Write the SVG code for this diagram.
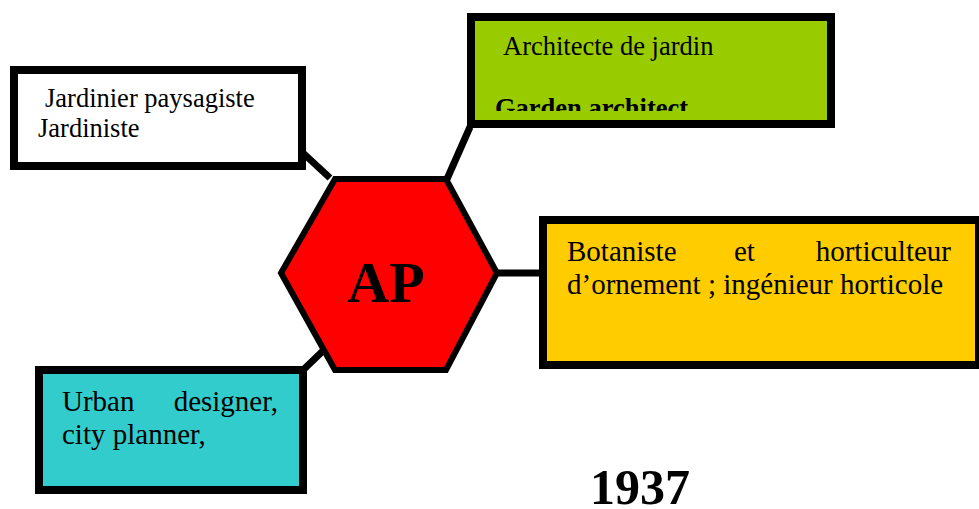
<svg xmlns="http://www.w3.org/2000/svg" width="979" height="509" viewBox="0 0 979 509">
  <style>
    .box { stroke: #000; stroke-width: 8; }
    .link { stroke: #000; stroke-width: 7; fill: none; }
    .t { font-family: "Liberation Serif", "Times New Roman", serif; fill: #000; }
    .small { font-size: 26.5px; }
    .med { font-size: 29px; }
    .b { font-weight: bold; }
  </style>
  <defs>
    <clipPath id="greenClip">
      <rect x="475" y="21" width="352" height="90"/>
    </clipPath>
  </defs>
  <rect width="979" height="509" fill="#fff"/>

  <!-- connectors from the hexagon to the boxes -->
  <g id="connectors">
    <line class="link" x1="303" y1="153" x2="330" y2="178"/>
    <line class="link" x1="447" y1="179" x2="470" y2="127"/>
    <line class="link" x1="497" y1="273" x2="545" y2="273"/>
    <line class="link" x1="328" y1="346" x2="301" y2="372"/>
  </g>

  <g id="hub">
    <polygon points="281,273 335,179 446,179 497,273 446,370 335,370" fill="#ff0000" stroke="#000" stroke-width="6" stroke-linejoin="miter"/>
    <text class="t b" x="386" y="302" font-size="58" text-anchor="middle">AP</text>
  </g>

  <g id="landscape-gardener">
    <rect class="box" x="14" y="70" width="288" height="96" fill="#fff"/>
    <text class="t small" x="45" y="107">Jardinier paysagiste</text>
    <text class="t small" x="38" y="137">Jardiniste</text>
  </g>

  <g id="garden-architect">
    <rect class="box" x="471" y="17" width="360" height="107" fill="#99cc00"/>
    <text class="t small" x="503" y="55">Architecte de jardin</text>
    <text class="t small b" x="495" y="117" clip-path="url(#greenClip)">Garden architect</text>
  </g>

  <g id="botanist">
    <rect class="box" x="543" y="220" width="436" height="145" fill="#ffcc00"/>
    <text class="t med" x="567" y="261">Botaniste</text>
    <text class="t med" x="734" y="261">et</text>
    <text class="t med" x="951" y="261" text-anchor="end">horticulteur</text>
    <text class="t med" x="567" y="294">d’ornement ; ingénieur horticole</text>
  </g>

  <g id="urban-designer">
    <rect class="box" x="39" y="370" width="264" height="120" fill="#33cccc"/>
    <text class="t med" x="62" y="411">Urban</text>
    <text class="t med" x="278" y="411" text-anchor="end">designer,</text>
    <text class="t med" x="62" y="444">city planner,</text>
  </g>

  <text class="t b" x="590" y="504" font-size="50">1937</text>
</svg>
